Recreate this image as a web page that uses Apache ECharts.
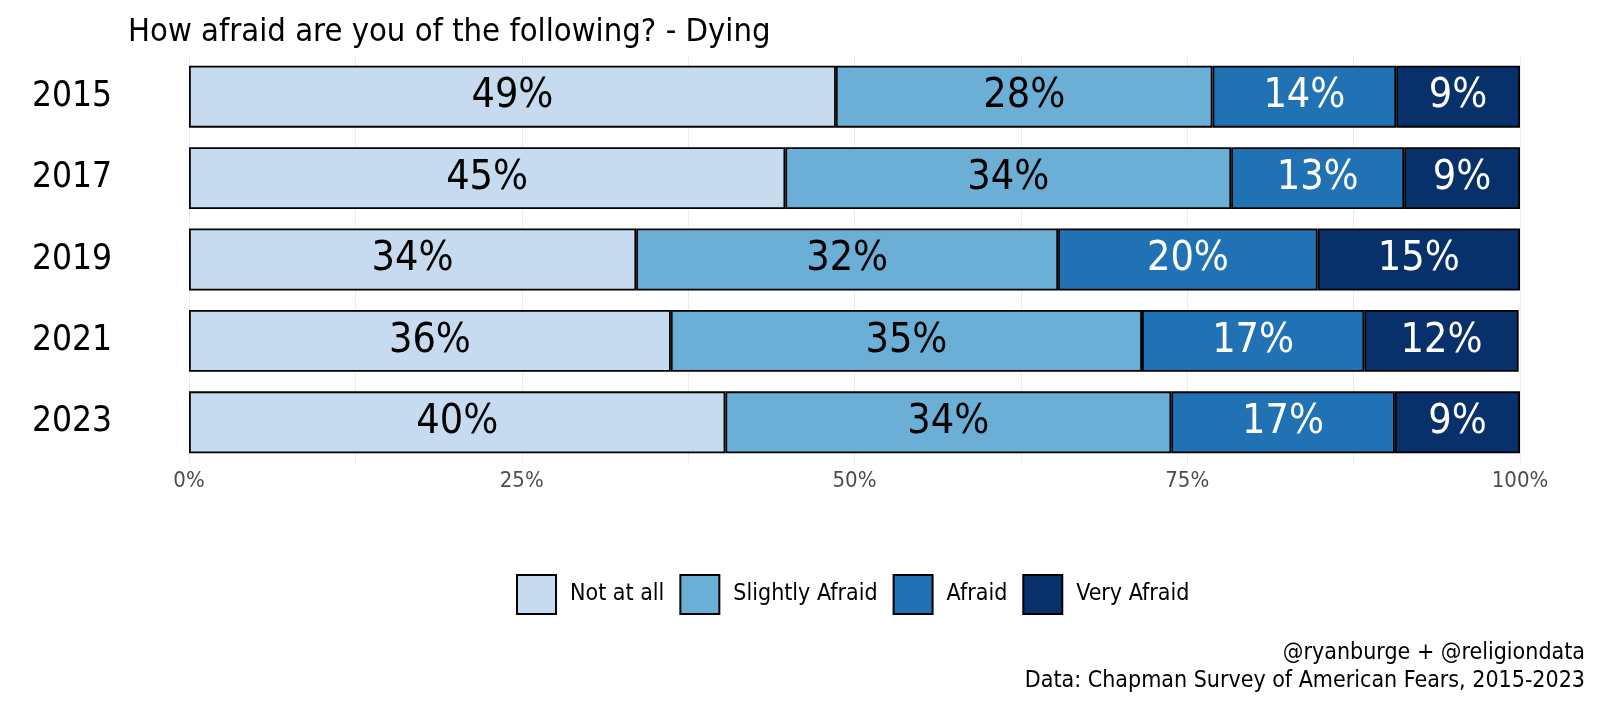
<!DOCTYPE html>
<html>
<head>
<meta charset="utf-8">
<script src="https://cdn.jsdelivr.net/npm/echarts@6/dist/echarts.min.js"></script>
<style>
html,body{margin:0;padding:0;background:#fff;}
#c{width:1600px;height:711px;}
</style>
</head>
<body>
<div id="c"></div>
<script>
var years = ['2015','2017','2019','2021','2023'];
var seriesNames = ['Not at all','Slightly Afraid','Afraid','Very Afraid'];
var notAtAll = [48.6, 44.8, 33.6, 36.2, 40.3];
var slightly = [28.3, 33.5, 31.7, 35.4, 33.5];
var afraid = [13.8, 13.0, 19.5, 16.7, 16.8];
var veryAfraid = [9.3, 8.7, 15.2, 11.6, 9.4];
var tickLabels = ['0%','25%','50%','75%','100%'];
var captionLines = ['@ryanburge + @religiondata', 'Data: Chapman Survey of American Fears, 2015-2023'];

var FONT = '"Liberation Sans Narrow", "DejaVu Sans Condensed", "Roboto", sans-serif';
var colors = ['#C6DBEF','#6BAED6','#2171B5','#08306B'];
var labelColors = ['#000','#000','#fff','#fff'];
var dataSets = [notAtAll, slightly, afraid, veryAfraid];

var chart = echarts.init(document.getElementById('c'));
var series = seriesNames.map(function(n,i){
  return {
    name: n, type: 'bar', stack: 'a', barWidth: '76%',
    data: dataSets[i],
    itemStyle: {color: colors[i], borderColor: '#000', borderWidth: 1.8},
    label: {show: true, position: 'inside', fontFamily: FONT, fontSize: 41,
      color: labelColors[i], formatter: function(p){ return Math.round(p.value) + '%'; }},
    emphasis: {disabled: true}
  };
});
chart.setOption({
  animation: false,
  textStyle: {fontFamily: FONT},
  title: [
    {text: 'How afraid are you of the following? - Dying', left: 123, top: 11,
     textStyle: {fontFamily: FONT, fontSize: 32.5, fontWeight: 'normal', color: '#000'}}
  ],
  graphic: captionLines.map(function(t, i){
    return {type: 'text', right: 15, top: 642 + i * 27.5,
      style: {text: t, fontFamily: FONT, fontSize: 23, fill: '#000'}};
  }),
  legend: {
    data: seriesNames, left: 511, top: 569, icon: 'rect',
    itemWidth: 39, itemHeight: 39, itemGap: 15,
    itemStyle: {borderColor: '#000', borderWidth: 2},
    textStyle: {fontFamily: FONT, fontSize: 23, color: '#000', padding: [0,0,0,9]},
    selectedMode: false
  },
  grid: {left: 189, right: 80, top: 56, bottom: 248},
  xAxis: {
    type: 'value', min: 0, max: 100, interval: 12.5,
    axisLine: {show: false}, axisTick: {show: false},
    splitLine: {show: true, lineStyle: {color: '#ececec', width: 1}},
    axisLabel: {fontFamily: FONT, fontSize: 22, color: '#4d4d4d', margin: 7,
      formatter: function(v){ var i = v/25; return (Math.abs(i - Math.round(i)) < 1e-6) ? tickLabels[Math.round(i)] : ''; }}
  },
  yAxis: {
    type: 'category', data: years, inverse: true,
    axisLine: {show: false}, axisTick: {show: false},
    axisLabel: {fontFamily: FONT, fontSize: 35, color: '#000', margin: 77, padding: [4,0,0,0]}
  },
  series: series
});
</script>
</body>
</html>
